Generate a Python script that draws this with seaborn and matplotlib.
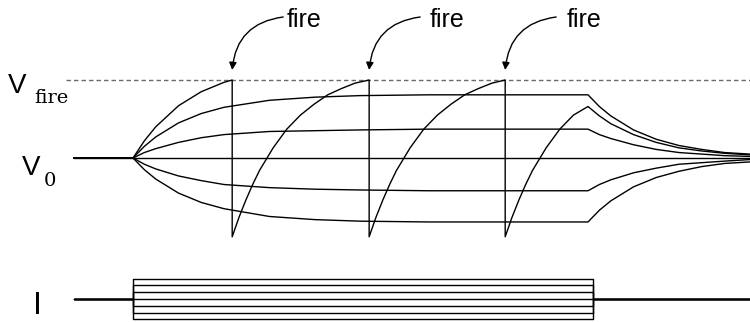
import matplotlib
matplotlib.use("Agg")
import matplotlib.pyplot as plt
import numpy as np
import pandas as pd
import seaborn as sns

# ---------------- data ----------------
# time in ms, stimulus current switched on at 0 ms and off at 100 ms
stim_on = 0.0
stim_off = 100.0
current_off = 101.0
t_start = -13.0
t_end = 135.6

# normalised membrane potential: V0 = 0, Vfire = 1, reset = -1.01
v_fire_level = 1.0

t_sub = [-13, 0, 2.5, 5, 10, 15, 20, 30, 40, 50, 65, 80, 100,
         102.5, 105, 110, 115, 120, 125, 130, 135.6]
v_plus2 = [0, 0, 0.15, 0.27, 0.45, 0.57, 0.65, 0.74, 0.78, 0.80, 0.81, 0.81, 0.81,
           0.66, 0.54, 0.36, 0.24, 0.16, 0.11, 0.07, 0.05]
v_plus1 = [0, 0, 0.07, 0.12, 0.20, 0.26, 0.30, 0.34, 0.35, 0.36, 0.37, 0.37, 0.37,
           0.30, 0.25, 0.17, 0.11, 0.07, 0.05, 0.03, 0.02]
v_zero = [0] * 21
v_minus1 = [0, 0, -0.08, -0.14, -0.23, -0.29, -0.34, -0.38, -0.40, -0.41, -0.42, -0.42, -0.42,
            -0.34, -0.28, -0.19, -0.13, -0.08, -0.06, -0.04, -0.02]
v_minus2 = [0, 0, -0.15, -0.27, -0.45, -0.57, -0.65, -0.75, -0.79, -0.81, -0.82, -0.82, -0.82,
            -0.67, -0.55, -0.37, -0.25, -0.17, -0.11, -0.07, -0.05]

# firing trace (spikes at 21.8, 51.9, 81.8 ms)
spike_times = [21.8, 51.9, 81.8]
t_fire = [-13, 0, 2.5, 5, 10, 15, 20, 21.8,
          21.8, 23.3, 24.8, 26.3, 27.8, 30.8, 33.8, 36.8, 39.8, 42.8, 45.8, 48.8, 51.9,
          51.9, 53.4, 54.9, 56.4, 57.9, 60.9, 63.9, 66.9, 69.9, 72.9, 75.9, 78.9, 81.8,
          81.8, 83.3, 84.8, 86.3, 87.8, 90.8, 93.8, 96.8, 100,
          102.5, 105, 110, 115, 120, 125, 130, 135.6]
v_fire = [0, 0, 0.22, 0.40, 0.67, 0.85, 0.97, 1.0,
          -1.01, -0.76, -0.54, -0.34, -0.16, 0.13, 0.37, 0.55, 0.69, 0.81, 0.89, 0.96, 1.0,
          -1.01, -0.76, -0.54, -0.34, -0.16, 0.13, 0.37, 0.55, 0.69, 0.81, 0.89, 0.96, 1.0,
          -1.01, -0.76, -0.54, -0.34, -0.16, 0.13, 0.37, 0.55, 0.66,
          0.54, 0.44, 0.30, 0.20, 0.13, 0.09, 0.06, 0.04]

# injected current levels (arbitrary units)
current_levels = [3, 2, 1, 0, -1, -2, -3]

# ---------------- build tables ----------------
rows = []
for name, vals in [("+2", v_plus2), ("+1", v_plus1), ("0", v_zero),
                   ("-1", v_minus1), ("-2", v_minus2)]:
    for i, (t, v) in enumerate(zip(t_sub, vals)):
        rows.append({"trace": name, "order": i, "t": t, "v": v})
for i, (t, v) in enumerate(zip(t_fire, v_fire)):
    rows.append({"trace": "fire", "order": i, "t": t, "v": v})
df_v = pd.DataFrame(rows)

rows = []
for lev in current_levels:
    ts = [t_start, stim_on, stim_on, current_off, current_off, t_end]
    cs = [0, 0, lev, lev, 0, 0]
    for i, (t, c) in enumerate(zip(ts, cs)):
        rows.append({"level": str(lev), "order": i, "t": t, "I": c})
df_i = pd.DataFrame(rows)

# ---------------- figure ----------------
sns.set_style("white")
plt.rcParams["font.family"] = ["Liberation Sans", "DejaVu Sans"]
plt.rcParams["text.color"] = "black"

W, H = 750, 322
fig = plt.figure(figsize=(W / 100, H / 100), dpi=100)

# pixel mapping: x = 133 + 4.55 t ; y = 158 - 78 v
px_per_ms = 4.55
x0_px = 133
ax_v = fig.add_axes([0, 72 / H, 1, 250 / H])
ax_v.set_xlim((0 - x0_px) / px_per_ms, (W - x0_px) / px_per_ms)
ax_v.set_ylim((158 - 250) / 78, 158 / 78)

ax_i = fig.add_axes([0, 0, 1, 72 / H])
ax_i.set_xlim((0 - x0_px) / px_per_ms, (W - x0_px) / px_per_ms)
ax_i.set_ylim((299 - 322) / 6.8, (299 - 250) / 6.8)

# threshold dashed line
ax_v.plot([(66 - x0_px) / px_per_ms, t_end], [v_fire_level, v_fire_level],
          color="#6a6a6a", lw=1.0, dashes=(3.2, 2.2))

sns.lineplot(data=df_v, x="t", y="v", units="trace", estimator=None, sort=False,
             color="black", lw=1.0, ax=ax_v, legend=False)
sns.lineplot(data=df_i, x="t", y="I", units="level", estimator=None, sort=False,
             color="black", lw=1.0, ax=ax_i, legend=False)
ax_v.axis("off")
ax_i.axis("off")

# "fire" annotations
text_dx = [54, 60, 61]
for st, dx in zip(spike_times, text_dx):
    ax_v.annotate("", xy=(st, v_fire_level + 10 / 78), xycoords="data",
                  xytext=(51, 53), textcoords="offset pixels",
                  arrowprops=dict(arrowstyle="-|>", color="black", lw=1.0,
                                  mutation_scale=11, shrinkA=0, shrinkB=0,
                                  connectionstyle="arc3,rad=0.4"))
    ax_v.annotate("fire", xy=(st, v_fire_level), xycoords="data",
                  xytext=(dx, 53), textcoords="offset pixels",
                  ha="left", va="baseline", fontsize=18, color="black")


def ftext(x, y, s, va="baseline", **kw):
    fig.text(x / W, 1 - y / H, s, ha="left", va=va, color="black", **kw)


ftext(8, 93, "V", fontsize=20)
ftext(34, 103, "fire", fontsize=14, family="DejaVu Serif")
ftext(22, 175, "V", fontsize=20)
ftext(44, 186, "0", fontsize=14, family="DejaVu Serif")
ftext(33, 321.5, "I", va="bottom", fontsize=23)

fig.savefig("out.png", dpi=100)
